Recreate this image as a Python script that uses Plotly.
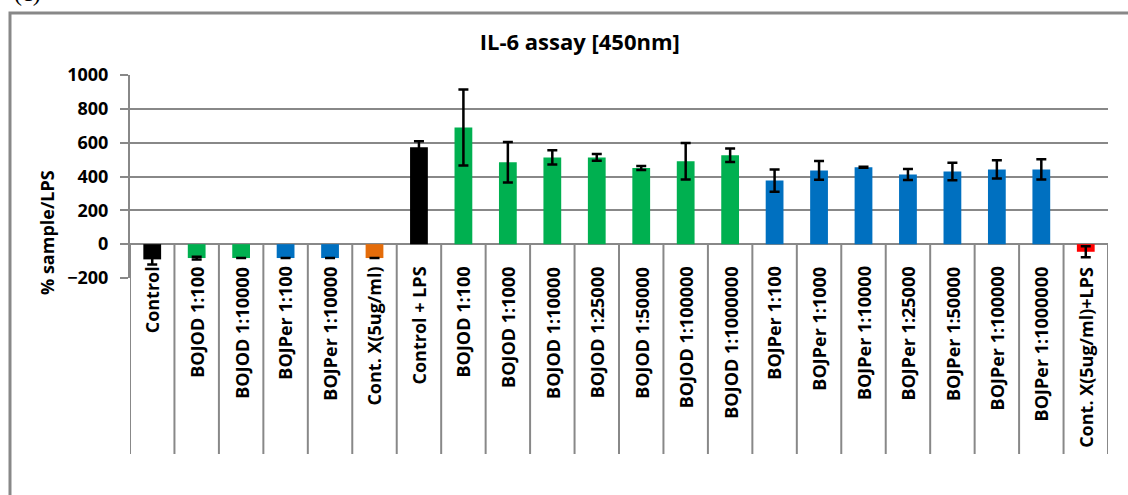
import plotly.graph_objects as go

categories = ["Control", "BOJOD 1:100", "BOJOD 1:10000", "BOJPer 1:100", "BOJPer 1:10000",
              "Cont. X(5ug/ml)", "Control + LPS", "BOJOD 1:100", "BOJOD 1:1000", "BOJOD 1:10000",
              "BOJOD 1:25000", "BOJOD 1:50000", "BOJOD 1:100000", "BOJOD 1:1000000",
              "BOJPer 1:100", "BOJPer 1:1000", "BOJPer 1:10000", "BOJPer 1:25000",
              "BOJPer 1:50000", "BOJPer 1:100000", "BOJPer 1:1000000", "Cont. X(5ug/ml)+LPS"]
values = [-90, -82, -82, -82, -82, -82, 573, 690, 484, 513, 513, 450, 490, 525,
          376, 436, 454, 412, 430, 442, 442, -45]
errors = [30, 8, 0, 0, 0, 0, 36, 225, 120, 42, 20, 12, 108, 40,
          66, 55, 3, 33, 52, 54, 60, 33]
groups = ["ctrl", "od", "od", "per", "per", "x", "ctrl", "od", "od", "od", "od", "od", "od", "od",
          "per", "per", "per", "per", "per", "per", "per", "xlps"]
y_ticks = [-200, 0, 200, 400, 600, 800, 1000]

palette = {"ctrl": "#000000", "od": "#00B050", "per": "#0070C0", "x": "#E46C0A", "xlps": "#FF0000"}
colors = [palette[g] for g in groups]
xs = list(range(len(categories)))

GRID = "#888888"
FONT = "Open Sans"

fig = go.Figure()
fig.add_trace(go.Bar(
    x=xs, y=values, marker=dict(color=colors, line=dict(width=0)),
    width=0.4,
    error_y=dict(type="data", array=errors, visible=True, color="#000000", thickness=2.5, width=5),
    showlegend=False,
))

shapes = []
for i in range(len(categories) + 1):
    shapes.append(dict(type="line", xref="x", yref="paper", x0=i - 0.5, x1=i - 0.5,
                       y0=200 / 1200, y1=-0.867, line=dict(color=GRID, width=2), layer="below"))
# outer chart border
shapes.append(dict(type="rect", xref="paper", yref="paper", x0=-0.1227, x1=1.2, y0=-3, y1=1.3054,
                   line=dict(color=GRID, width=3), fillcolor="rgba(0,0,0,0)"))

annotations = []
for i, c in enumerate(categories):
    annotations.append(dict(x=i, xref="x", y=0.066, yref="paper", text=c, textangle=-90,
                            xanchor="center", yanchor="top", showarrow=False,
                            font=dict(family=FONT, size=18, color="#000000", weight="bold")))
annotations.append(dict(x=-0.0849, xref="paper", y=0.2266, yref="paper", text="% sample/LPS",
                        textangle=-90, showarrow=False, xanchor="center", yanchor="middle",
                        font=dict(family=FONT, size=18, color="#000000", weight="bold")))
annotations.append(dict(x=-0.1207, xref="paper", y=1.33, yref="paper", text="(c)",
                        showarrow=False, xanchor="left", yanchor="bottom",
                        font=dict(family="Liberation Serif", size=24, color="#000000")))

fig.update_layout(
    width=1128, height=495,
    margin=dict(l=130, r=20, t=75, b=217),
    paper_bgcolor="white", plot_bgcolor="white",
    title=dict(text="IL-6 assay [450nm]", x=0.514, xref="container", xanchor="center",
               y=1 - 42 / 495, yref="container", yanchor="middle",
               font=dict(family=FONT, size=22, color="#000000", weight="bold")),
    bargap=0.6,
    shapes=shapes, annotations=annotations,
    xaxis=dict(range=[-0.5, len(categories) - 0.5], showticklabels=False, showgrid=False,
               zeroline=False, showline=False, ticks=""),
    yaxis=dict(range=[-200, 1000], tickvals=y_ticks, showgrid=True, gridcolor=GRID, gridwidth=1.5,
               zeroline=True, zerolinecolor=GRID, zerolinewidth=2,
               showline=True, linecolor=GRID, linewidth=2,
               ticks="outside", ticklen=8, tickcolor=GRID, tickwidth=1.5,
               ticklabelstandoff=8,
               tickfont=dict(family=FONT, size=18, color="#000000", weight="bold")),
)

fig.write_html("out.html", config={"displayModeBar": False},
               post_script="document.body.style.margin='0';")
